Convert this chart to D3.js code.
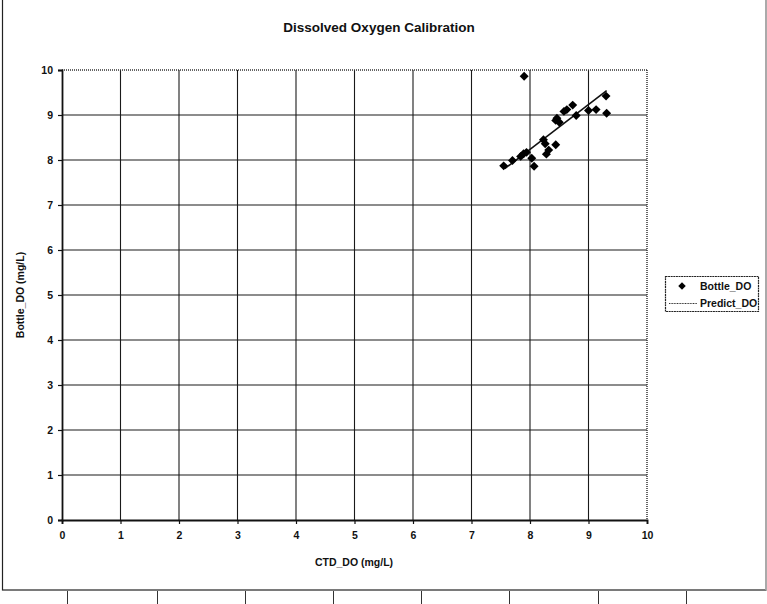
<!DOCTYPE html>
<html>
<head>
<meta charset="utf-8">
<script src="https://cdn.jsdelivr.net/npm/d3@7"></script>
<style>
  html, body { margin: 0; padding: 0; background: #fff; }
  svg { display: block; font-family: "Liberation Sans", Arial, sans-serif; }
</style>
</head>
<body>
<svg id="chart" width="767" height="604"></svg>
<script>
// Bottle samples against CTD sensor readings (mg/L)
const ctdDO = [7.90, 9.30, 9.31, 9.00, 9.13, 8.73, 8.63, 8.79, 8.58, 8.46, 8.50, 8.44,
               8.23, 8.26, 8.44, 8.32, 8.28, 7.89, 7.94, 7.84, 8.03, 7.70, 7.55, 8.07];
const bottleDO = [9.86, 9.42, 9.04, 9.10, 9.12, 9.22, 9.12, 8.99, 9.08, 8.93, 8.84, 8.88,
                  8.45, 8.36, 8.34, 8.22, 8.13, 8.14, 8.17, 8.08, 8.04, 7.99, 7.87, 7.86];
// Calibration line endpoints
const predictX = [7.57, 9.31];
const predictY = [7.81, 9.54];
const xTicks = [0, 1, 2, 3, 4, 5, 6, 7, 8, 9, 10];
const yTicks = [0, 1, 2, 3, 4, 5, 6, 7, 8, 9, 10];
const legendLabels = ["Bottle_DO", "Predict_DO"];
const tableDividers = [67, 157, 245, 333, 421, 509, 598, 686];

const svg = d3.select("#chart");
const plot = { left: 62, right: 647, top: 70, bottom: 520 };

const x = d3.scaleLinear().domain([0, 10]).range([plot.left, plot.right]);
const y = d3.scaleLinear().domain([0, 10]).range([plot.bottom, plot.top]);

// outer frame of the chart object
svg.append("rect").attr("x", 2.5).attr("y", -1).attr("width", 763.5).attr("height", 591)
  .attr("fill", "#fff").attr("stroke", "#222").attr("stroke-width", 1.2);
svg.append("line").attr("x1", 766).attr("x2", 766).attr("y1", 0).attr("y2", 590)
  .attr("stroke", "#bbb").attr("stroke-width", 1.5);

// spreadsheet cell row below the chart
svg.selectAll(".cell").data(tableDividers).join("line")
  .attr("x1", d => d + 0.5).attr("x2", d => d + 0.5)
  .attr("y1", 591).attr("y2", 604)
  .attr("stroke", "#333").attr("stroke-width", 1);

// title
svg.append("text").attr("x", 379).attr("y", 31.5).attr("text-anchor", "middle")
  .attr("font-size", 13.5).attr("font-weight", "bold").attr("fill", "#111")
  .text("Dissolved Oxygen Calibration");

// gridlines
svg.append("g").selectAll("line").data(yTicks.filter(d => d > 0 && d < 10)).join("line")
  .attr("x1", plot.left).attr("x2", plot.right)
  .attr("y1", d => y(d)).attr("y2", d => y(d))
  .attr("stroke", "#1a1a1a").attr("stroke-width", 1.2);
svg.append("g").selectAll("line").data(xTicks.filter(d => d > 0 && d < 10)).join("line")
  .attr("y1", plot.top).attr("y2", plot.bottom)
  .attr("x1", d => x(d)).attr("x2", d => x(d))
  .attr("stroke", "#1a1a1a").attr("stroke-width", 1.1);

// dotted top and right edges of the plot area
svg.append("line").attr("x1", plot.left).attr("x2", plot.right).attr("y1", plot.top).attr("y2", plot.top)
  .attr("stroke", "#333").attr("stroke-width", 1.5).attr("stroke-dasharray", "1,1");
svg.append("line").attr("x1", plot.right).attr("x2", plot.right).attr("y1", plot.top).attr("y2", plot.bottom)
  .attr("stroke", "#333").attr("stroke-width", 1.5).attr("stroke-dasharray", "1,1");

// axes
const xAxis = d3.axisBottom(x).tickValues(xTicks).tickFormat(d3.format("d")).tickSize(4).tickPadding(8);
const yAxis = d3.axisLeft(y).tickValues(yTicks).tickFormat(d3.format("d")).tickSize(4).tickPadding(5);

const gx = svg.append("g").attr("transform", `translate(0,${plot.bottom})`).call(xAxis);
const gy = svg.append("g").attr("transform", `translate(${plot.left},0)`).call(yAxis);
[gx, gy].forEach(g => {
  g.select(".domain").attr("stroke", "#111").attr("stroke-width", 1.8);
  g.selectAll(".tick line").attr("stroke", "#111").attr("stroke-width", 1.2);
  g.selectAll(".tick text").attr("font-size", 10.5).attr("font-weight", "bold")
    .attr("fill", "#111").attr("font-family", "Liberation Sans, Arial, sans-serif");
});

// axis titles
svg.append("text").attr("x", 354).attr("y", 566)
  .attr("text-anchor", "middle").attr("font-size", 10.5).attr("font-weight", "bold").attr("fill", "#111")
  .text("CTD_DO (mg/L)");
svg.append("text").attr("transform", `translate(24,295) rotate(-90)`)
  .attr("text-anchor", "middle").attr("font-size", 10.5).attr("font-weight", "bold").attr("fill", "#111")
  .text("Bottle_DO (mg/L)");

// calibration line
svg.append("path")
  .datum(predictX.map((v, i) => [v, predictY[i]]))
  .attr("d", d3.line().x(d => x(d[0])).y(d => y(d[1])))
  .attr("fill", "none").attr("stroke", "#111").attr("stroke-width", 1.6);

// bottle samples as diamonds (rotated squares)
svg.append("g").selectAll("path").data(ctdDO.map((v, i) => [v, bottleDO[i]])).join("path")
  .attr("d", d3.symbol().type(d3.symbolSquare).size(40))
  .attr("transform", d => `translate(${x(d[0])},${y(d[1])}) rotate(45)`)
  .attr("fill", "#000");

// legend
const lg = svg.append("g");
lg.append("rect").attr("x", 665.5).attr("y", 276.5).attr("width", 93).attr("height", 35)
  .attr("fill", "#fff").attr("stroke", "#222").attr("stroke-width", 1.2)
  .attr("stroke-dasharray", "2,0.6");
lg.append("path").attr("d", d3.symbol().type(d3.symbolSquare).size(28)())
  .attr("transform", "translate(682,286) rotate(45)").attr("fill", "#000");
lg.append("line").attr("x1", 669).attr("x2", 697).attr("y1", 303.5).attr("y2", 303.5)
  .attr("stroke", "#333").attr("stroke-width", 1).attr("stroke-dasharray", "1,0.6");
lg.selectAll("text").data(legendLabels).join("text")
  .attr("x", 700).attr("y", (d, i) => 289.5 + i * 17.5)
  .attr("font-size", 10.5).attr("font-weight", "bold").attr("fill", "#111")
  .text(d => d);
</script>
</body>
</html>
